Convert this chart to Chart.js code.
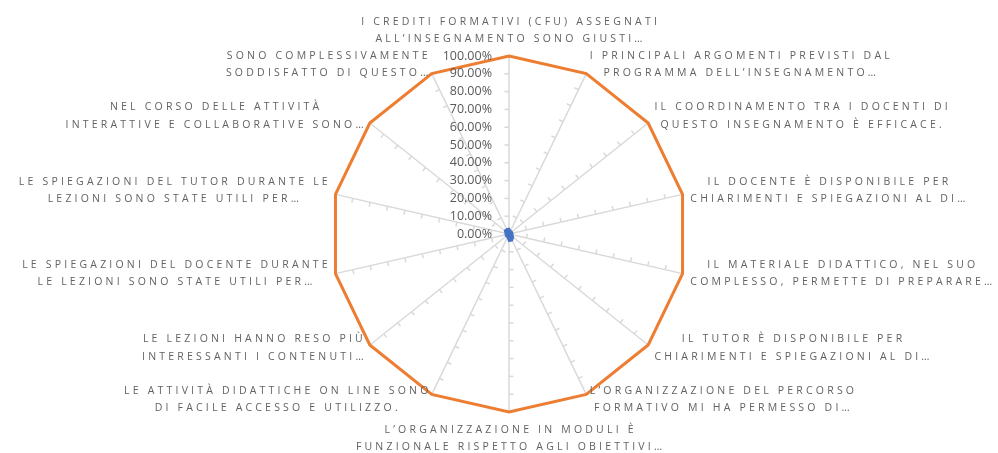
<!DOCTYPE html>
<html><head><meta charset="utf-8">
<script src="https://cdn.jsdelivr.net/npm/chart.js@4/dist/chart.umd.min.js"></script>
<style>html,body{margin:0;padding:0;background:#fff}#wrap{width:998px;height:453px;position:relative}</style>
</head><body><div id="wrap"><canvas id="c"></canvas></div>
<script>
const categories = [
  ["I CREDITI FORMATIVI (CFU) ASSEGNATI", "ALL’INSEGNAMENTO SONO GIUSTI…"],
  ["I PRINCIPALI ARGOMENTI PREVISTI DAL", "PROGRAMMA DELL’INSEGNAMENTO…"],
  ["IL COORDINAMENTO TRA I DOCENTI DI", "QUESTO INSEGNAMENTO È EFFICACE."],
  ["IL DOCENTE È DISPONIBILE PER", "CHIARIMENTI E SPIEGAZIONI AL DI…"],
  ["IL MATERIALE DIDATTICO, NEL SUO", "COMPLESSO, PERMETTE DI PREPARARE…"],
  ["IL TUTOR È DISPONIBILE PER", "CHIARIMENTI E SPIEGAZIONI AL DI…"],
  ["L’ORGANIZZAZIONE DEL PERCORSO", "FORMATIVO MI HA PERMESSO DI…"],
  ["L’ORGANIZZAZIONE IN MODULI È", "FUNZIONALE RISPETTO AGLI OBIETTIVI…"],
  ["LE ATTIVITÀ DIDATTICHE ON LINE SONO", "DI FACILE ACCESSO E UTILIZZO."],
  ["LE LEZIONI HANNO RESO PIÙ", "INTERESSANTI I CONTENUTI…"],
  ["LE SPIEGAZIONI DEL DOCENTE DURANTE", "LE LEZIONI SONO STATE UTILI PER…"],
  ["LE SPIEGAZIONI DEL TUTOR DURANTE LE", "LEZIONI SONO STATE UTILI PER…"],
  ["NEL CORSO DELLE ATTIVITÀ", "INTERATTIVE E COLLABORATIVE SONO…"],
  ["SONO COMPLESSIVAMENTE", "SODDISFATTO DI QUESTO…"]
];
const seriesOrange = [1, 1, 1, 1, 1, 1, 1, 1, 1, 1, 1, 1, 1, 1];
const seriesBlue = [0.03, 0.02, 0.02, 0.02, 0.02, 0.03, 0.04, 0.04, 0.02, 0.02, 0.02, 0.02, 0.03, 0.03];
const tickValues = [0, 0.1, 0.2, 0.3, 0.4, 0.5, 0.6, 0.7, 0.8, 0.9, 1];
const tickLabels = ["0.00%", "10.00%", "20.00%", "30.00%", "40.00%", "50.00%", "60.00%", "70.00%", "80.00%", "90.00%", "100.00%"];

const LABEL_FAMILY = '"Open Sans", sans-serif';
const LABEL_SIZE = 10.5;
const LABEL_LH = 17.5;
const LABEL_SPACING = 3.2;
const LABEL_PAD = 8;
const TEXT_COLOR = '#626262';
const GRID_COLOR = '#d9d9d9';

const decorPlugin = {
  id: 'decor',
  beforeDatasetsDraw(chart) {
    const s = chart.scales.r, ctx = chart.ctx;
    ctx.save();
    ctx.strokeStyle = GRID_COLOR;
    ctx.lineWidth = 1.5;
    for (let i = 0; i < categories.length; i++) {
      const end = s.getPointPositionForValue(i, 1);
      let dx = end.x - s.xCenter, dy = end.y - s.yCenter;
      const L = Math.hypot(dx, dy); dx /= L; dy /= L;
      const px = dy, py = -dx;
      for (let k = 1; k < tickValues.length; k++) {
        const p = s.getPointPositionForValue(i, tickValues[k]);
        ctx.beginPath();
        ctx.moveTo(p.x, p.y);
        ctx.lineTo(p.x + px * 4.5, p.y + py * 4.5);
        ctx.stroke();
      }
    }
    ctx.restore();
  },
  afterDraw(chart) {
    const s = chart.scales.r, ctx = chart.ctx;
    ctx.save();
    ctx.letterSpacing = LABEL_SPACING + 'px';
    ctx.font = LABEL_SIZE + 'px ' + LABEL_FAMILY;
    ctx.fillStyle = TEXT_COLOR;
    ctx.textAlign = 'center';
    ctx.textBaseline = 'middle';
    for (let i = 0; i < categories.length; i++) {
      const lines = categories[i];
      const widths = lines.map(l => ctx.measureText(l).width - LABEL_SPACING);
      const w = Math.max(...widths);
      const h = lines.length * LABEL_LH;
      const a = s.getPointPosition(i, s.drawingArea + LABEL_PAD);
      const dx = a.x - s.xCenter, dy = a.y - s.yCenter;
      let left, top;
      if (Math.abs(dx) < 2) {
        left = a.x - w / 2;
        top = dy < 0 ? a.y - h : a.y + 1;
      } else {
        left = dx > 0 ? a.x : a.x - w;
        top = a.y - h / 2 - 2;
      }
      const cx = left + w / 2 + LABEL_SPACING / 2;
      lines.forEach((ln, j) => ctx.fillText(ln, cx, top + LABEL_LH * (j + 0.5)));
    }
    ctx.letterSpacing = '0px';
    ctx.font = '12.5px ' + LABEL_FAMILY;
    ctx.fillStyle = '#595959';
    ctx.textAlign = 'right';
    for (let k = 0; k < tickValues.length; k++) {
      const d = s.getDistanceFromCenterForValue(tickValues[k]);
      ctx.fillText(tickLabels[k], s.xCenter - 17, s.yCenter - d);
    }
    ctx.restore();
  }
};

new Chart(document.getElementById('c'), {
  type: 'radar',
  data: {
    labels: categories,
    datasets: [
      { label: 'Serie 1', data: seriesBlue, borderColor: '#4472C4', backgroundColor: '#4472C4', fill: true, borderWidth: 2, pointRadius: 0 },
      { label: 'Serie 2', data: seriesOrange, borderColor: '#ED7D31', backgroundColor: 'rgba(0,0,0,0)', fill: false, borderWidth: 3, pointRadius: 0 }
    ]
  },
  options: {
    responsive: true,
    maintainAspectRatio: false,
    animation: false,
    layout: { padding: { top: 56, bottom: 41, left: 20, right: 0 } },
    plugins: { legend: { display: false }, tooltip: { enabled: false } },
    scales: {
      r: {
        min: 0, max: 1,
        ticks: { display: false, stepSize: 0.1 },
        grid: { display: false },
        angleLines: { display: true, color: GRID_COLOR, lineWidth: 1.5 },
        pointLabels: { display: false }
      }
    }
  },
  plugins: [decorPlugin]
});
</script></body></html>
